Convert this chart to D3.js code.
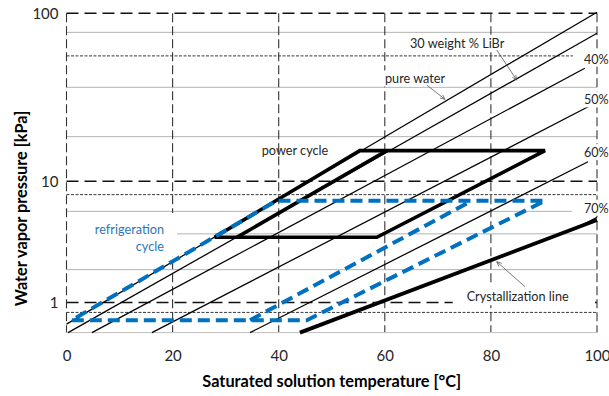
<!DOCTYPE html>
<html><head><meta charset="utf-8">
<script src="https://cdn.jsdelivr.net/npm/d3@7"></script>
<style>
html,body{margin:0;padding:0;background:#fff;}
svg{display:block;font-family:Lato,"Open Sans",sans-serif;}
</style></head><body>
<svg id="chart" width="609" height="396"></svg>
<script>
// Dühring chart of aqueous LiBr: solution temperature vs. water vapour pressure
const tempTicks = [0, 20, 40, 60, 80, 100];
const pressureTicks = [1, 10, 100];
const fineDashedGrid = [0.8, 8, 60];
const dottedGrid = [2, 4, 6, 20, 40, 80];

// constant-concentration lines: [solution temperature °C, vapour pressure kPa]
const lineNames = ["pure water", "30%", "40%", "50%", "60%", "70%"];
const lineFrom = [[0, 0.611], [0.3, 0.5], [4.8, 0.5], [16.1, 0.5], [34.6, 0.5], [95.8, 4.39]];
const lineTo   = [[100, 101.3], [100, 79.1], [97.7, 51.3], [98.6, 31.0], [98.3, 13.65], [100, 5.4]];

const crystallization = [[44.0, 0.5], [100, 5.14]];

const powerCycle = [[27.9, 3.75], [58.5, 3.75], [90.2, 16.2], [55.3, 16.2], [27.9, 3.75]];
const powerCycleInner = [[32.1, 3.75], [60.4, 16.2]];
const refrigCycle = [[1.0, 0.67], [45.3, 0.67], [90.2, 7.21], [39.6, 7.21], [1.0, 0.67]];
const refrigCycleInner = [[34.6, 0.67], [76.4, 7.21]];

const W = 609, H = 396;
const margin = {top: 13.3, right: 12, bottom: 63.4, left: 66.5};

// pressure axis is linear in the saturation temperature of pure water (Antoine)
const tSat = p => 1730.63 / (8.07131 - Math.log10(p / 0.133322)) - 233.426;

const x = d3.scaleLinear().domain([0, 100]).range([margin.left, W - margin.right]);
const yT = d3.scaleLinear().domain([tSat(0.5), tSat(100)]).range([H - margin.bottom, margin.top]);
const y = p => yT(tSat(p));

const svg = d3.select("#chart");
const line = d3.line().x(d => x(d[0])).y(d => y(d[1]));

const x0 = x(0), x1 = x(100), yb = yT(tSat(0.5)), yt = yT(tSat(100));

// grid
const grid = svg.append("g");
grid.selectAll(".gd").data(dottedGrid).join("line")
  .attr("x1", x0).attr("x2", x1).attr("y1", d => y(d)).attr("y2", d => y(d))
  .attr("stroke", "#666").attr("stroke-width", 1).attr("stroke-dasharray", "1,1");
grid.selectAll(".gf").data(fineDashedGrid).join("line")
  .attr("x1", x0).attr("x2", x1).attr("y1", d => y(d)).attr("y2", d => y(d))
  .attr("stroke", "#222").attr("stroke-width", 0.9).attr("stroke-dasharray", "3,1.5");
grid.selectAll(".gm").data(pressureTicks).join("line")
  .attr("x1", x0).attr("x2", x1).attr("y1", d => y(d)).attr("y2", d => y(d))
  .attr("stroke", "#111").attr("stroke-width", 1.4).attr("stroke-dasharray", "12,6");
grid.selectAll(".gv").data(tempTicks).join("line")
  .attr("x1", d => x(d)).attr("x2", d => x(d)).attr("y1", yt).attr("y2", yb)
  .attr("stroke", "#333").attr("stroke-width", 1.1).attr("stroke-dasharray", "9,4");
grid.append("line").attr("x1", x0).attr("x2", x1).attr("y1", yb).attr("y2", yb)
  .attr("stroke", "#bfbfbf").attr("stroke-width", 1);

// axes
const ax = svg.append("g").attr("transform", `translate(0,${yb})`)
  .call(d3.axisBottom(x).tickValues(tempTicks).tickSize(0).tickPadding(18));
ax.select(".domain").remove();
// keep the last temperature label inside the page
ax.selectAll(".tick text").filter(d => d === 100).attr("text-anchor", "end").attr("dx", "13");
const ay = svg.append("g").attr("transform", `translate(${x0},0)`)
  .call(d3.axisLeft(yT).tickValues(pressureTicks.map(tSat)).tickFormat((d, i) => pressureTicks[i]).tickSize(0).tickPadding(8));
ay.select(".domain").remove();
svg.selectAll(".tick text").attr("font-size", 15).attr("fill", "#262626").attr("font-family", "Lato");

// concentration lines
svg.append("g").selectAll("path").data(lineNames).join("path")
  .attr("d", (d, i) => line([lineFrom[i], lineTo[i]]))
  .attr("fill", "none").attr("stroke", "#000").attr("stroke-width", 1.25);

// crystallization line
svg.append("path").attr("d", line(crystallization))
  .attr("fill", "none").attr("stroke", "#000").attr("stroke-width", 3.8);

// power cycle
[powerCycle, powerCycleInner].forEach(c => svg.append("path").attr("d", line(c))
  .attr("fill", "none").attr("stroke", "#000").attr("stroke-width", 3.6).attr("stroke-linejoin", "miter"));

// refrigeration cycle
[refrigCycle, refrigCycleInner].forEach(c => svg.append("path").attr("d", line(c))
  .attr("fill", "none").attr("stroke", "#0070C0").attr("stroke-width", 4).attr("stroke-dasharray", "12,6"));

// labels with white boxes
const labels = svg.append("g");
function label(txt, px, py, opts = {}) {
  const g = labels.append("g");
  const t = g.append("text").attr("x", px).attr("y", py).attr("dy", "0.35em")
    .attr("text-anchor", opts.anchor || "start")
    .attr("font-size", opts.size || 12.7).attr("fill", opts.color || "#262626").text(txt);
  if (opts.box) {
    const b = t.node().getBBox(), p = opts.box;
    g.insert("rect", "text").attr("x", b.x - p[3]).attr("y", b.y - p[0])
      .attr("width", b.width + p[1] + p[3]).attr("height", b.height + p[0] + p[2]).attr("fill", "#fff");
  }
  return t;
}
label("power cycle", 261.7, 150.7);
label("pure water", 385, 79, {box: [0, 2, 0, 1]});
label("30 weight % LiBr", 410, 43.3, {box: [0, 2, -2, 2]});
label("40%", 584, 59.3, {box: [1, 10, 0, 11], size: 12.6});
label("50%", 584, 100, {box: [1, 10, 0, 11], size: 12.6});
label("60%", 584, 152.7, {box: [1, 10, 0, 11], size: 12.6});
label("70%", 584, 208.3, {box: [1, 10, 0, 12], size: 12.6});
label("Crystallization line", 466.7, 296.7, {box: [2, 26, 1, 14]});
const rc = labels.append("g");
rc.append("rect").attr("x", 68).attr("y", 213).attr("width", 109).attr("height", 43).attr("fill", "#fff");
label("refrigeration", 164, 229.3, {anchor: "end", color: "#2E75B6"});
label("cycle", 164, 246.7, {anchor: "end", color: "#2E75B6"});

// leader lines
svg.append("defs").append("marker").attr("id", "arr").attr("viewBox", "0 0 8 8")
  .attr("refX", 7).attr("refY", 4).attr("markerWidth", 7).attr("markerHeight", 7).attr("orient", "auto")
  .append("path").attr("d", "M0,1 L7,4 L0,7").attr("fill", "none").attr("stroke", "#555").attr("stroke-width", 1);
const leaders = [[426.7, 85, 445, 99.3], [496.7, 50, 516.7, 80], [525, 286.7, 496.7, 261.7]];
svg.append("g").selectAll("line").data(leaders).join("line")
  .attr("x1", d => d[0]).attr("y1", d => d[1]).attr("x2", d => d[2]).attr("y2", d => d[3])
  .attr("stroke", "#555").attr("stroke-width", 0.8).attr("marker-end", "url(#arr)");

// axis titles
svg.append("text").attr("x", (x0 + x1) / 2).attr("y", 381.7).attr("dy", "0.35em")
  .attr("text-anchor", "middle").attr("font-size", 16.3).attr("font-weight", "bold").attr("fill", "#000")
  .text("Saturated solution temperature [°C]");
svg.append("text").attr("transform", "translate(21,208.5) rotate(-90)").attr("dy", "0.35em")
  .attr("text-anchor", "middle").attr("font-size", 16.3).attr("font-weight", "bold").attr("fill", "#000")
  .text("Water vapor pressure [kPa]");
</script>
</body></html>
